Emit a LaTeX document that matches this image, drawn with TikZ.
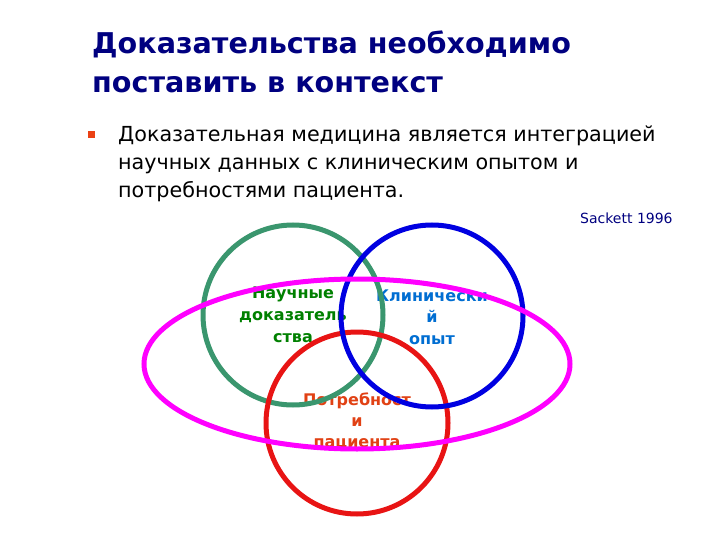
\documentclass[tikz,border=0pt]{standalone}
\usepackage{fontspec}
\setmainfont{DejaVu Sans}
\definecolor{navy}{RGB}{0,0,128}
\definecolor{cgreen}{RGB}{58,150,110}
\definecolor{cblue}{RGB}{0,0,225}
\definecolor{cred}{RGB}{232,20,20}
\definecolor{cmag}{RGB}{255,0,255}
\definecolor{tgreen}{RGB}{0,128,0}
\definecolor{tblue}{RGB}{0,110,210}
\definecolor{tred}{RGB}{225,65,20}
\definecolor{bullet}{RGB}{235,65,20}
\tikzset{
  ring/.style={line width=5pt},
  title/.style={anchor=base west, inner sep=0pt, text=navy, font=\fontsize{28.6}{32}\selectfont\bfseries},
  body/.style={anchor=base west, inner sep=0pt, font=\fontsize{20.7}{24}\selectfont},
  lab/.style={anchor=base, inner sep=0pt, font=\fontsize{16}{18}\selectfont\bfseries}
}
\begin{document}
\begin{tikzpicture}[x=1pt,y=-1pt]
\useasboundingbox (0,0) rectangle (720,540);
\fill[white] (0,0) rectangle (720,540);
\node[title] (t1) at (92,54) {Доказательства необходимо};
\node[title] (t2) at (92,93) {поставить в контекст};
\fill[bullet] (88,131) rectangle (95,138);
\node[body] (b1) at (118,142) {Доказательная медицина является интеграцией};
\node[body] (b2) at (118,170) {научных данных с клиническим опытом и};
\node[body] (b3) at (118,198) {потребностями пациента.};
\node[anchor=base west, inner sep=0pt, text=navy, font=\fontsize{14}{16}\selectfont] (src) at (580,224) {Sackett 1996};
% labels
\node[lab,text=tgreen] (g1) at (293,298) {Научные};
\node[lab,text=tgreen] (g2) at (293,320) {доказатель};
\node[lab,text=tgreen] (g3) at (293,342) {ства};
\node[lab,text=tblue] (c1) at (432,301) {Клинически};
\node[lab,text=tblue] (c2) at (432,322) {й};
\node[lab,text=tblue] (c3) at (432,344) {опыт};
\node[lab,text=tred] (p1) at (357,405) {Потребност};
\node[lab,text=tred] (p2) at (357,426) {и};
\node[lab,text=tred] (p3) at (357,447) {пациента};
% rings
\draw[ring,cgreen] (293,315) circle [radius=90];
\draw[ring,cred] (357,423) circle [radius=91];
\draw[ring,cblue] (432,316) circle [radius=91];
\draw[ring,cmag] (357,364) ellipse [x radius=213, y radius=85];
\end{tikzpicture}
\end{document}
